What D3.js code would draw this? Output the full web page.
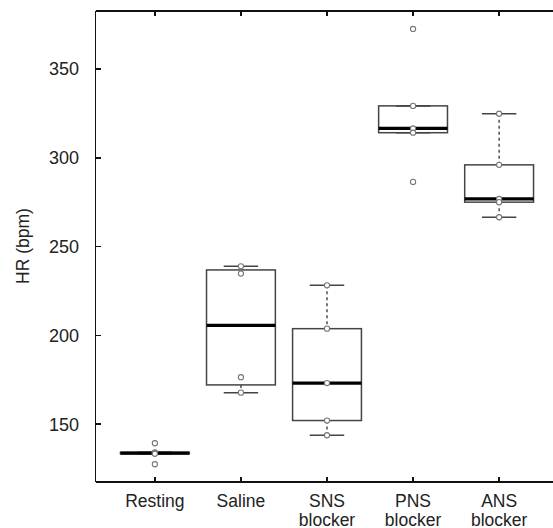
<!DOCTYPE html>
<html>
<head>
<script src="https://cdn.jsdelivr.net/npm/d3@7"></script>
<style>
  body { margin: 0; background: #fff; }
  svg { font-family: "Liberation Sans", Arial, sans-serif; }
  .frame line { stroke: #111; stroke-width: 1.6; shape-rendering: crispEdges; }
</style>
</head>
<body>
<script>
// groups along the x axis (second line of the label after "|")
var groups = ["Resting", "Saline", "SNS|blocker", "PNS|blocker", "ANS|blocker"];

// individual heart rates per group
var resting = [139.3, 134.2, 133.8, 133.4, 127.5];
var saline = [238.9, 234.8, 176.5, 167.8];
var sns = [228.2, 203.8, 173.2, 152.1, 143.8];
var pns = [372.5, 329.2, 316.5, 314.1, 286.4];
var ans = [324.8, 296.0, 276.8, 275.0, 266.5];
var series = [resting, saline, sns, pns, ans];

var yTicks = [150, 200, 250, 300, 350];

var w = 553, h = 528;
var x = d3.scaleLinear().domain([0.31, 5.69]).range([95.5, 558.5]);
var y = d3.scaleLinear().domain([117.5, 382.6]).range([482, 11]);
var boxW = (x(1) - x(0)) * 0.8;

// R style fivenum + whiskers (1.5 IQR)
function stats(vals) {
  var s = vals.slice().sort(d3.ascending), n = s.length;
  var n4 = Math.floor((n + 3) / 2) / 2;
  var d = [1, n4, (n + 1) / 2, n + 1 - n4, n].map(function (k) {
    return 0.5 * (s[Math.floor(k) - 1] + s[Math.ceil(k) - 1]);
  });
  var iqr = d[3] - d[1];
  var lo = d3.min(s.filter(function (v) { return v >= d[1] - 1.5 * iqr; }));
  var hi = d3.max(s.filter(function (v) { return v <= d[3] + 1.5 * iqr; }));
  return {q1: d[1], med: d[2], q3: d[3], lo: lo, hi: hi};
}

var svg = d3.select("body").append("svg")
  .attr("width", w).attr("height", h);

// frame (right side lies past the window edge)
var frame = svg.append("g").attr("class", "frame");
frame.append("line").attr("x1", x.range()[0]).attr("x2", w).attr("y1", y.range()[1]).attr("y2", y.range()[1]);
frame.append("line").attr("x1", x.range()[0]).attr("x2", w).attr("y1", y.range()[0]).attr("y2", y.range()[0]);
frame.append("line").attr("x1", x.range()[0]).attr("x2", x.range()[0]).attr("y1", y.range()[1]).attr("y2", y.range()[0]);

// y ticks, inward
yTicks.forEach(function (t) {
  frame.append("line").attr("x1", x.range()[0]).attr("x2", x.range()[0] + 5)
    .attr("y1", y(t)).attr("y2", y(t));
  svg.append("text").attr("x", 79).attr("y", y(t)).attr("dy", "0.35em")
    .attr("text-anchor", "end").attr("font-size", 18).attr("fill", "#222").text(t);
});

// x ticks top and bottom, inward
groups.forEach(function (g, i) {
  var cx = x(i + 1);
  frame.append("line").attr("x1", cx).attr("x2", cx).attr("y1", y.range()[0]).attr("y2", y.range()[0] - 5);
  frame.append("line").attr("x1", cx).attr("x2", cx).attr("y1", y.range()[1]).attr("y2", y.range()[1] + 5);
  var lines = g.split("|");
  var t = svg.append("text").attr("text-anchor", "middle").attr("font-size", 17.5).attr("fill", "#222");
  lines.forEach(function (l, k) {
    t.append("tspan").attr("x", cx).attr("y", 506.5 + k * 19).text(l);
  });
});

svg.append("text")
  .attr("transform", "translate(29,246) rotate(-90)")
  .attr("text-anchor", "middle").attr("font-size", 17.5).attr("fill", "#222")
  .text("HR (bpm)");

// boxes
series.forEach(function (vals, i) {
  var s = stats(vals), cx = x(i + 1);
  var g = svg.append("g");
  g.append("line").attr("x1", cx).attr("x2", cx).attr("y1", y(s.hi)).attr("y2", y(s.q3))
    .attr("stroke", "#333").attr("stroke-width", 1.3).attr("stroke-dasharray", "3,3");
  g.append("line").attr("x1", cx).attr("x2", cx).attr("y1", y(s.q1)).attr("y2", y(s.lo))
    .attr("stroke", "#333").attr("stroke-width", 1.3).attr("stroke-dasharray", "3,3");
  [s.hi, s.lo].forEach(function (v) {
    g.append("line").attr("x1", cx - boxW / 4).attr("x2", cx + boxW / 4)
      .attr("y1", y(v)).attr("y2", y(v)).attr("stroke", "#444").attr("stroke-width", 1.5);
  });
  g.append("rect").attr("x", cx - boxW / 2).attr("width", boxW)
    .attr("y", y(s.q3)).attr("height", y(s.q1) - y(s.q3))
    .attr("fill", "none").attr("stroke", "#444").attr("stroke-width", 1.5);
  g.append("line").attr("x1", cx - boxW / 2).attr("x2", cx + boxW / 2)
    .attr("y1", y(s.med)).attr("y2", y(s.med)).attr("stroke", "#000").attr("stroke-width", 3.2);
  g.selectAll("circle").data(vals).enter().append("circle")
    .attr("cx", cx).attr("cy", function (d) { return y(d); }).attr("r", 2.6)
    .attr("fill", "#fff").attr("stroke", "#777").attr("stroke-width", 1.1);
});
</script>
</body>
</html>
